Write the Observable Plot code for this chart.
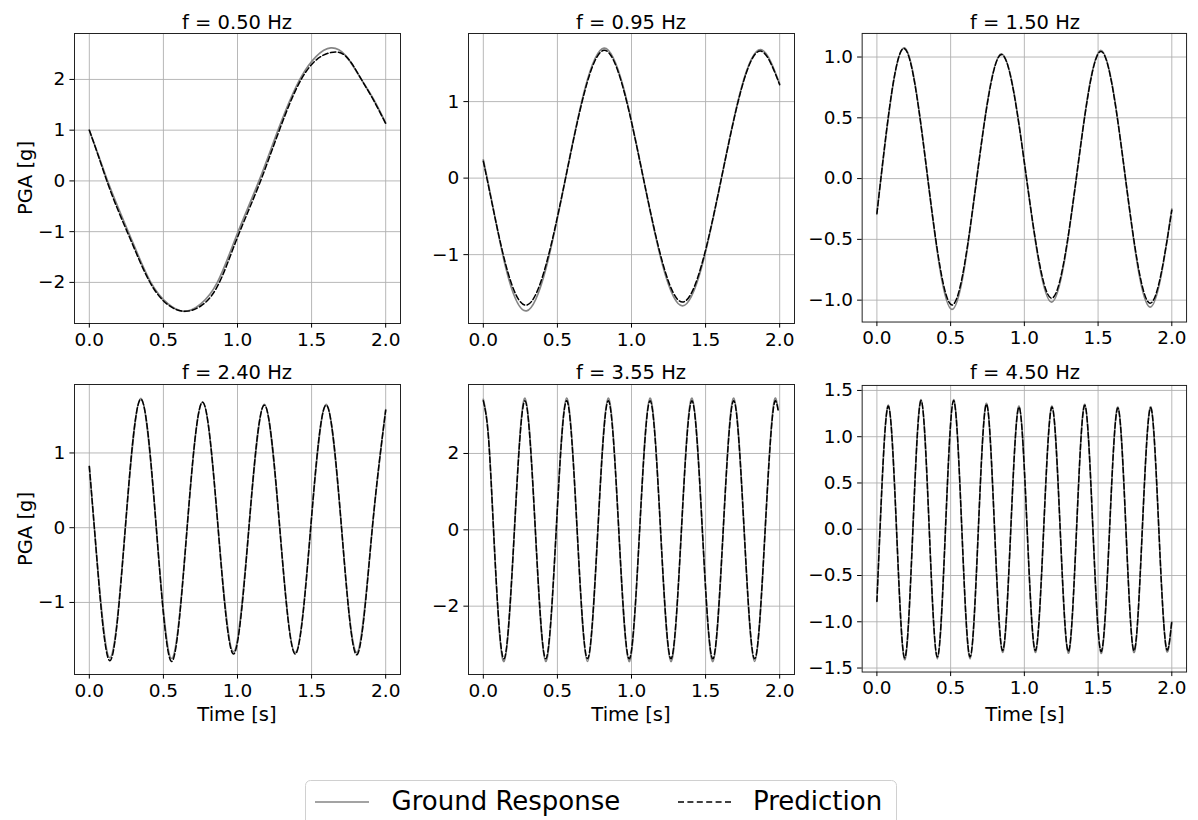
<!DOCTYPE html>
<html>
<head>
<meta charset="utf-8">
<script src="https://cdn.jsdelivr.net/npm/d3@7"></script>
<script src="https://cdn.jsdelivr.net/npm/@observablehq/plot@0.6"></script>
<style>
  html, body { margin: 0; padding: 0; background: #fff; }
  #root { position: relative; width: 1198px; height: 820px; overflow: hidden; font-family: "DejaVu Sans", sans-serif; }
  .panel { position: absolute; }
  #overlay { position: absolute; left: 0; top: 0; pointer-events: none; }
</style>
</head>
<body>
<div id="root"></div>
<script>
// ---------- data ----------
const titles = ["f = 0.50 Hz", "f = 0.95 Hz", "f = 1.50 Hz", "f = 2.40 Hz", "f = 3.55 Hz", "f = 4.50 Hz"];
const seriesNames = ["Ground Response", "Prediction"];
const xTicks = [0, 0.5, 1.0, 1.5, 2.0];

// f = 0.50 Hz
const t1 = [0, 0.067, 0.123, 0.28, 0.415, 0.53, 0.64, 0.75, 0.864, 0.988, 1.145, 1.28, 1.43, 1.53, 1.63, 1.73, 1.836, 1.92, 2.0];
const g1 = [1.0, 0.46, 0.0, -1.12, -2.0, -2.42, -2.57, -2.43, -2.0, -1.12, 0.0, 1.05, 2.05, 2.45, 2.62, 2.47, 2.0, 1.6, 1.14];
const p1 = [1.0, 0.44, -0.04, -1.17, -2.03, -2.44, -2.57, -2.47, -2.08, -1.2, -0.08, 0.98, 2.0, 2.38, 2.53, 2.46, 2.0, 1.58, 1.13];
const yTicks1 = [-2, -1, 0, 1, 2];

// f = 0.95 Hz
const t2 = [0, 0.026, 0.15, 0.292, 0.555, 0.815, 1.08, 1.344, 1.607, 1.872, 1.94, 2.0];
const g2 = [0.24, 0.0, -1.16, -1.735, 0.0, 1.70, 0.0, -1.67, 0.0, 1.68, 1.52, 1.23];
const p2 = [0.22, -0.02, -1.12, -1.66, 0.0, 1.67, 0.0, -1.62, 0.0, 1.66, 1.50, 1.22];
const yTicks2 = [-1, 0, 1];

// f = 1.50 Hz
const t3 = [0, 0.027, 0.18, 0.345, 0.509, 0.677, 0.845, 1.015, 1.186, 1.352, 1.518, 1.686, 1.852, 2.0];
const g3 = [-0.28, 0.0, 1.074, 0.0, -1.076, 0.0, 1.027, 0.0, -1.016, 0.0, 1.055, 0.0, -1.057, -0.25];
const p3 = [-0.29, 0.0, 1.07, 0.0, -1.04, 0.0, 1.02, 0.0, -0.984, 0.0, 1.046, 0.0, -1.025, -0.26];
const yTicks3 = [-1.0, -0.5, 0.0, 0.5, 1.0];

// f = 2.40 Hz
const t4 = [0, 0.034, 0.138, 0.243, 0.348, 0.452, 0.555, 0.66, 0.765, 0.869, 0.973, 1.077, 1.181, 1.285, 1.39, 1.494, 1.598, 1.702, 1.806, 1.91, 2.0];
const g4 = [0.82, 0.0, -1.74, 0.0, 1.73, 0.0, -1.75, 0.0, 1.68, 0.0, -1.66, 0.0, 1.65, 0.0, -1.67, 0.0, 1.65, 0.0, -1.67, 0.0, 1.58];
const p4 = [0.82, 0.0, -1.78, 0.0, 1.72, 0.0, -1.79, 0.0, 1.68, 0.0, -1.69, 0.0, 1.64, 0.0, -1.69, 0.0, 1.64, 0.0, -1.70, 0.0, 1.57];
const yTicks4 = [-1, 0, 1];

// f = 3.55 Hz
const t5 = [0, 0.035, 0.069, 0.139, 0.21, 0.281, 0.351, 0.421, 0.492, 0.562, 0.633, 0.703, 0.773, 0.843, 0.914, 0.984, 1.055, 1.125, 1.196, 1.266, 1.337, 1.408, 1.478, 1.549, 1.619, 1.69, 1.76, 1.831, 1.902, 1.94, 1.972, 1.99];
const g5 = [3.42, 2.45, 0.0, -3.45, 0.0, 3.45, 0.0, -3.45, 0.0, 3.45, 0.0, -3.45, 0.0, 3.45, 0.0, -3.45, 0.0, 3.45, 0.0, -3.45, 0.0, 3.45, 0.0, -3.45, 0.0, 3.45, 0.0, -3.45, 0.0, 2.5, 3.45, 3.15];
const p5 = [3.38, 2.40, 0.0, -3.38, 0.0, 3.38, 0.0, -3.38, 0.0, 3.38, 0.0, -3.38, 0.0, 3.38, 0.0, -3.38, 0.0, 3.38, 0.0, -3.38, 0.0, 3.38, 0.0, -3.38, 0.0, 3.38, 0.0, -3.38, 0.0, 2.46, 3.38, 3.12];
const yTicks5 = [-2, 0, 2];

// f = 4.50 Hz
const t6 = [0, 0.021, 0.078, 0.133, 0.188, 0.244, 0.30, 0.355, 0.41, 0.465, 0.52, 0.576, 0.632, 0.688, 0.744, 0.798, 0.852, 0.908, 0.964, 1.019, 1.074, 1.131, 1.188, 1.243, 1.298, 1.354, 1.41, 1.465, 1.52, 1.578, 1.635, 1.689, 1.742, 1.80, 1.859, 1.912, 1.966, 2.0];
const g6 = [-0.77, 0.0, 1.34, 0.0, -1.41, 0.0, 1.40, 0.0, -1.40, 0.0, 1.40, 0.0, -1.40, 0.0, 1.36, 0.0, -1.33, 0.0, 1.33, 0.0, -1.33, 0.0, 1.33, 0.0, -1.34, 0.0, 1.35, 0.0, -1.34, 0.0, 1.32, 0.0, -1.33, 0.0, 1.32, 0.0, -1.32, -1.0];
const p6 = [-0.78, 0.0, 1.33, 0.0, -1.39, 0.0, 1.39, 0.0, -1.38, 0.0, 1.39, 0.0, -1.38, 0.0, 1.35, 0.0, -1.31, 0.0, 1.32, 0.0, -1.31, 0.0, 1.32, 0.0, -1.32, 0.0, 1.34, 0.0, -1.32, 0.0, 1.31, 0.0, -1.31, 0.0, 1.31, 0.0, -1.30, -0.99];
const yTicks6 = [-1.5, -1.0, -0.5, 0.0, 0.5, 1.0, 1.5];

// ---------- a smooth y(x) natural-spline curve for Plot.line (handles uneven spacing) ----------
function curveNaturalX(context) {
  let xs = [], ys = [];
  return {
    areaStart() {}, areaEnd() {},
    lineStart() { xs = []; ys = []; },
    point(x, y) { xs.push(+x); ys.push(+y); },
    lineEnd() {
      const n = xs.length;
      if (n === 0) return;
      context.moveTo(xs[0], ys[0]);
      if (n < 3) { for (let i = 1; i < n; i++) context.lineTo(xs[i], ys[i]); return; }
      const h = [], M = new Array(n).fill(0);
      for (let i = 0; i < n - 1; i++) h.push(xs[i + 1] - xs[i]);
      // tridiagonal system for interior second derivatives
      const a = [], b = [], c = [], d = [];
      for (let i = 1; i < n - 1; i++) {
        a.push(h[i - 1]); b.push(2 * (h[i - 1] + h[i])); c.push(h[i]);
        d.push(6 * ((ys[i + 1] - ys[i]) / h[i] - (ys[i] - ys[i - 1]) / h[i - 1]));
      }
      const m = b.length;
      for (let i = 1; i < m; i++) {
        const w = a[i] / b[i - 1];
        b[i] -= w * c[i - 1];
        d[i] -= w * d[i - 1];
      }
      const sol = new Array(m);
      sol[m - 1] = d[m - 1] / b[m - 1];
      for (let i = m - 2; i >= 0; i--) sol[i] = (d[i] - c[i] * sol[i + 1]) / b[i];
      for (let i = 0; i < m; i++) M[i + 1] = sol[i];
      for (let i = 0; i < n - 1; i++) {
        const hi = h[i], s = (ys[i + 1] - ys[i]) / hi;
        const d0 = s - hi * (2 * M[i] + M[i + 1]) / 6;
        const d1 = s + hi * (M[i] + 2 * M[i + 1]) / 6;
        context.bezierCurveTo(xs[i] + hi / 3, ys[i] + d0 * hi / 3, xs[i + 1] - hi / 3, ys[i + 1] - d1 * hi / 3, xs[i + 1], ys[i + 1]);
      }
    }
  };
}

// ---------- layout ----------
const FONT = '"DejaVu Sans", sans-serif';
const panels = [
  {title: titles[0], t: t1, g: g1, p: p1, yTicks: yTicks1, fmt: "d",   yDomain: [-2.81, 2.905], left: 74,  top: 33,  h: 290, ylab: true,  xlab: false},
  {title: titles[1], t: t2, g: g2, p: p2, yTicks: yTicks2, fmt: "d",   yDomain: [-1.90, 1.89],  left: 468, top: 33,  h: 290, ylab: false, xlab: false},
  {title: titles[2], t: t3, g: g3, p: p3, yTicks: yTicks3, fmt: ".1f", yDomain: [-1.18, 1.194], left: 862, top: 33,  h: 290, ylab: false, xlab: false},
  {title: titles[3], t: t4, g: g4, p: p4, yTicks: yTicks4, fmt: "d",   yDomain: [-1.964, 1.916], left: 74,  top: 384, h: 290, ylab: true,  xlab: true},
  {title: titles[4], t: t5, g: g5, p: p5, yTicks: yTicks5, fmt: "d",   yDomain: [-3.79, 3.807], left: 468, top: 384, h: 290, ylab: false, xlab: true},
  {title: titles[5], t: t6, g: g6, p: p6, yTicks: yTicks6, fmt: ".1f", yDomain: [-1.543, 1.554], left: 862, top: 385, h: 288, ylab: false, xlab: true},
];
const W = 326, ML = 70, MR = 12, MT = 10, MB = 40;
const root = document.getElementById("root");
const NS = "http://www.w3.org/2000/svg";
const overlay = document.createElementNS(NS, "svg");
overlay.setAttribute("id", "overlay");
overlay.setAttribute("width", 1198);
overlay.setAttribute("height", 820);

function addText(parent, str, attrs) {
  const el = document.createElementNS(NS, "text");
  for (const k in attrs) el.setAttribute(k, attrs[k]);
  el.textContent = str;
  parent.appendChild(el);
  return el;
}

for (const P of panels) {
  const data = P.t.map((x, i) => ({t: x, g: P.g[i], p: P.p[i]}));
  const chart = Plot.plot({
    width: W + ML + MR,
    height: P.h + MT + MB,
    marginLeft: ML, marginRight: MR, marginTop: MT, marginBottom: MB,
    x: {domain: [-0.1, 2.1]},
    y: {domain: P.yDomain},
    style: {fontFamily: FONT, fontSize: "18.5px", color: "#000", background: "transparent", overflow: "visible"},
    marks: [
      Plot.gridX(xTicks, {stroke: "#b0b0b0", strokeOpacity: 1, strokeWidth: 0.9}),
      Plot.gridY(P.yTicks, {stroke: "#b0b0b0", strokeOpacity: 1, strokeWidth: 0.9}),
      Plot.line(data, {x: "t", y: "g", stroke: "#858585", strokeWidth: 1.7, curve: curveNaturalX}),
      Plot.line(data, {x: "t", y: "p", stroke: "#000", strokeWidth: 1.5, strokeDasharray: "5.5,2.6", curve: curveNaturalX}),
      Plot.frame({stroke: "#222", strokeWidth: 1}),
      Plot.axisX(xTicks, {tickSize: 4.6, tickPadding: 4.6, tickFormat: d3.format(".1f"), label: null, fontSize: 18.5}),
      Plot.axisY(P.yTicks, {tickSize: 4.6, tickPadding: 4.6, tickFormat: d3.format(P.fmt), label: null, fontSize: 18.5})
    ]
  });
  const div = document.createElement("div");
  div.className = "panel";
  div.style.left = (P.left - ML) + "px";
  div.style.top = (P.top - MT) + "px";
  div.appendChild(chart);
  root.appendChild(div);

  const cx = P.left + W / 2;
  const topRow = P.top < 100;
  addText(overlay, P.title, {x: cx, y: topRow ? 29 : 379, "text-anchor": "middle", "font-family": FONT, "font-size": "19.5px", fill: "#000"});
  if (P.ylab) {
    const cy = P.top + P.h / 2;
    addText(overlay, "PGA [g]", {x: 0, y: 0, transform: `translate(31.5,${cy}) rotate(-90)`, "text-anchor": "middle", "font-family": FONT, "font-size": "19.5px", fill: "#000"});
  }
  if (P.xlab) {
    addText(overlay, "Time [s]", {x: cx, y: 721, "text-anchor": "middle", "font-family": FONT, "font-size": "19.5px", fill: "#000"});
  }
}

// ---------- legend ----------
const box = document.createElementNS(NS, "rect");
box.setAttribute("x", 305.5); box.setAttribute("y", 780.5);
box.setAttribute("width", 591); box.setAttribute("height", 70);
box.setAttribute("rx", 5); box.setAttribute("fill", "#fff"); box.setAttribute("stroke", "#d0d0d0");
overlay.appendChild(box);
const l1 = document.createElementNS(NS, "line");
l1.setAttribute("x1", 315); l1.setAttribute("x2", 369); l1.setAttribute("y1", 802); l1.setAttribute("y2", 802);
l1.setAttribute("stroke", "#858585"); l1.setAttribute("stroke-width", 1.7);
overlay.appendChild(l1);
addText(overlay, seriesNames[0], {x: 391.5, y: 810, "font-family": FONT, "font-size": "26px", fill: "#000"});
const l2 = document.createElementNS(NS, "line");
l2.setAttribute("x1", 678); l2.setAttribute("x2", 731); l2.setAttribute("y1", 802); l2.setAttribute("y2", 802);
l2.setAttribute("stroke", "#000"); l2.setAttribute("stroke-width", 1.5); l2.setAttribute("stroke-dasharray", "6,3.4");
overlay.appendChild(l2);
addText(overlay, seriesNames[1], {x: 753, y: 810, "font-family": FONT, "font-size": "26px", fill: "#000"});

root.appendChild(overlay);
</script>
</body>
</html>
